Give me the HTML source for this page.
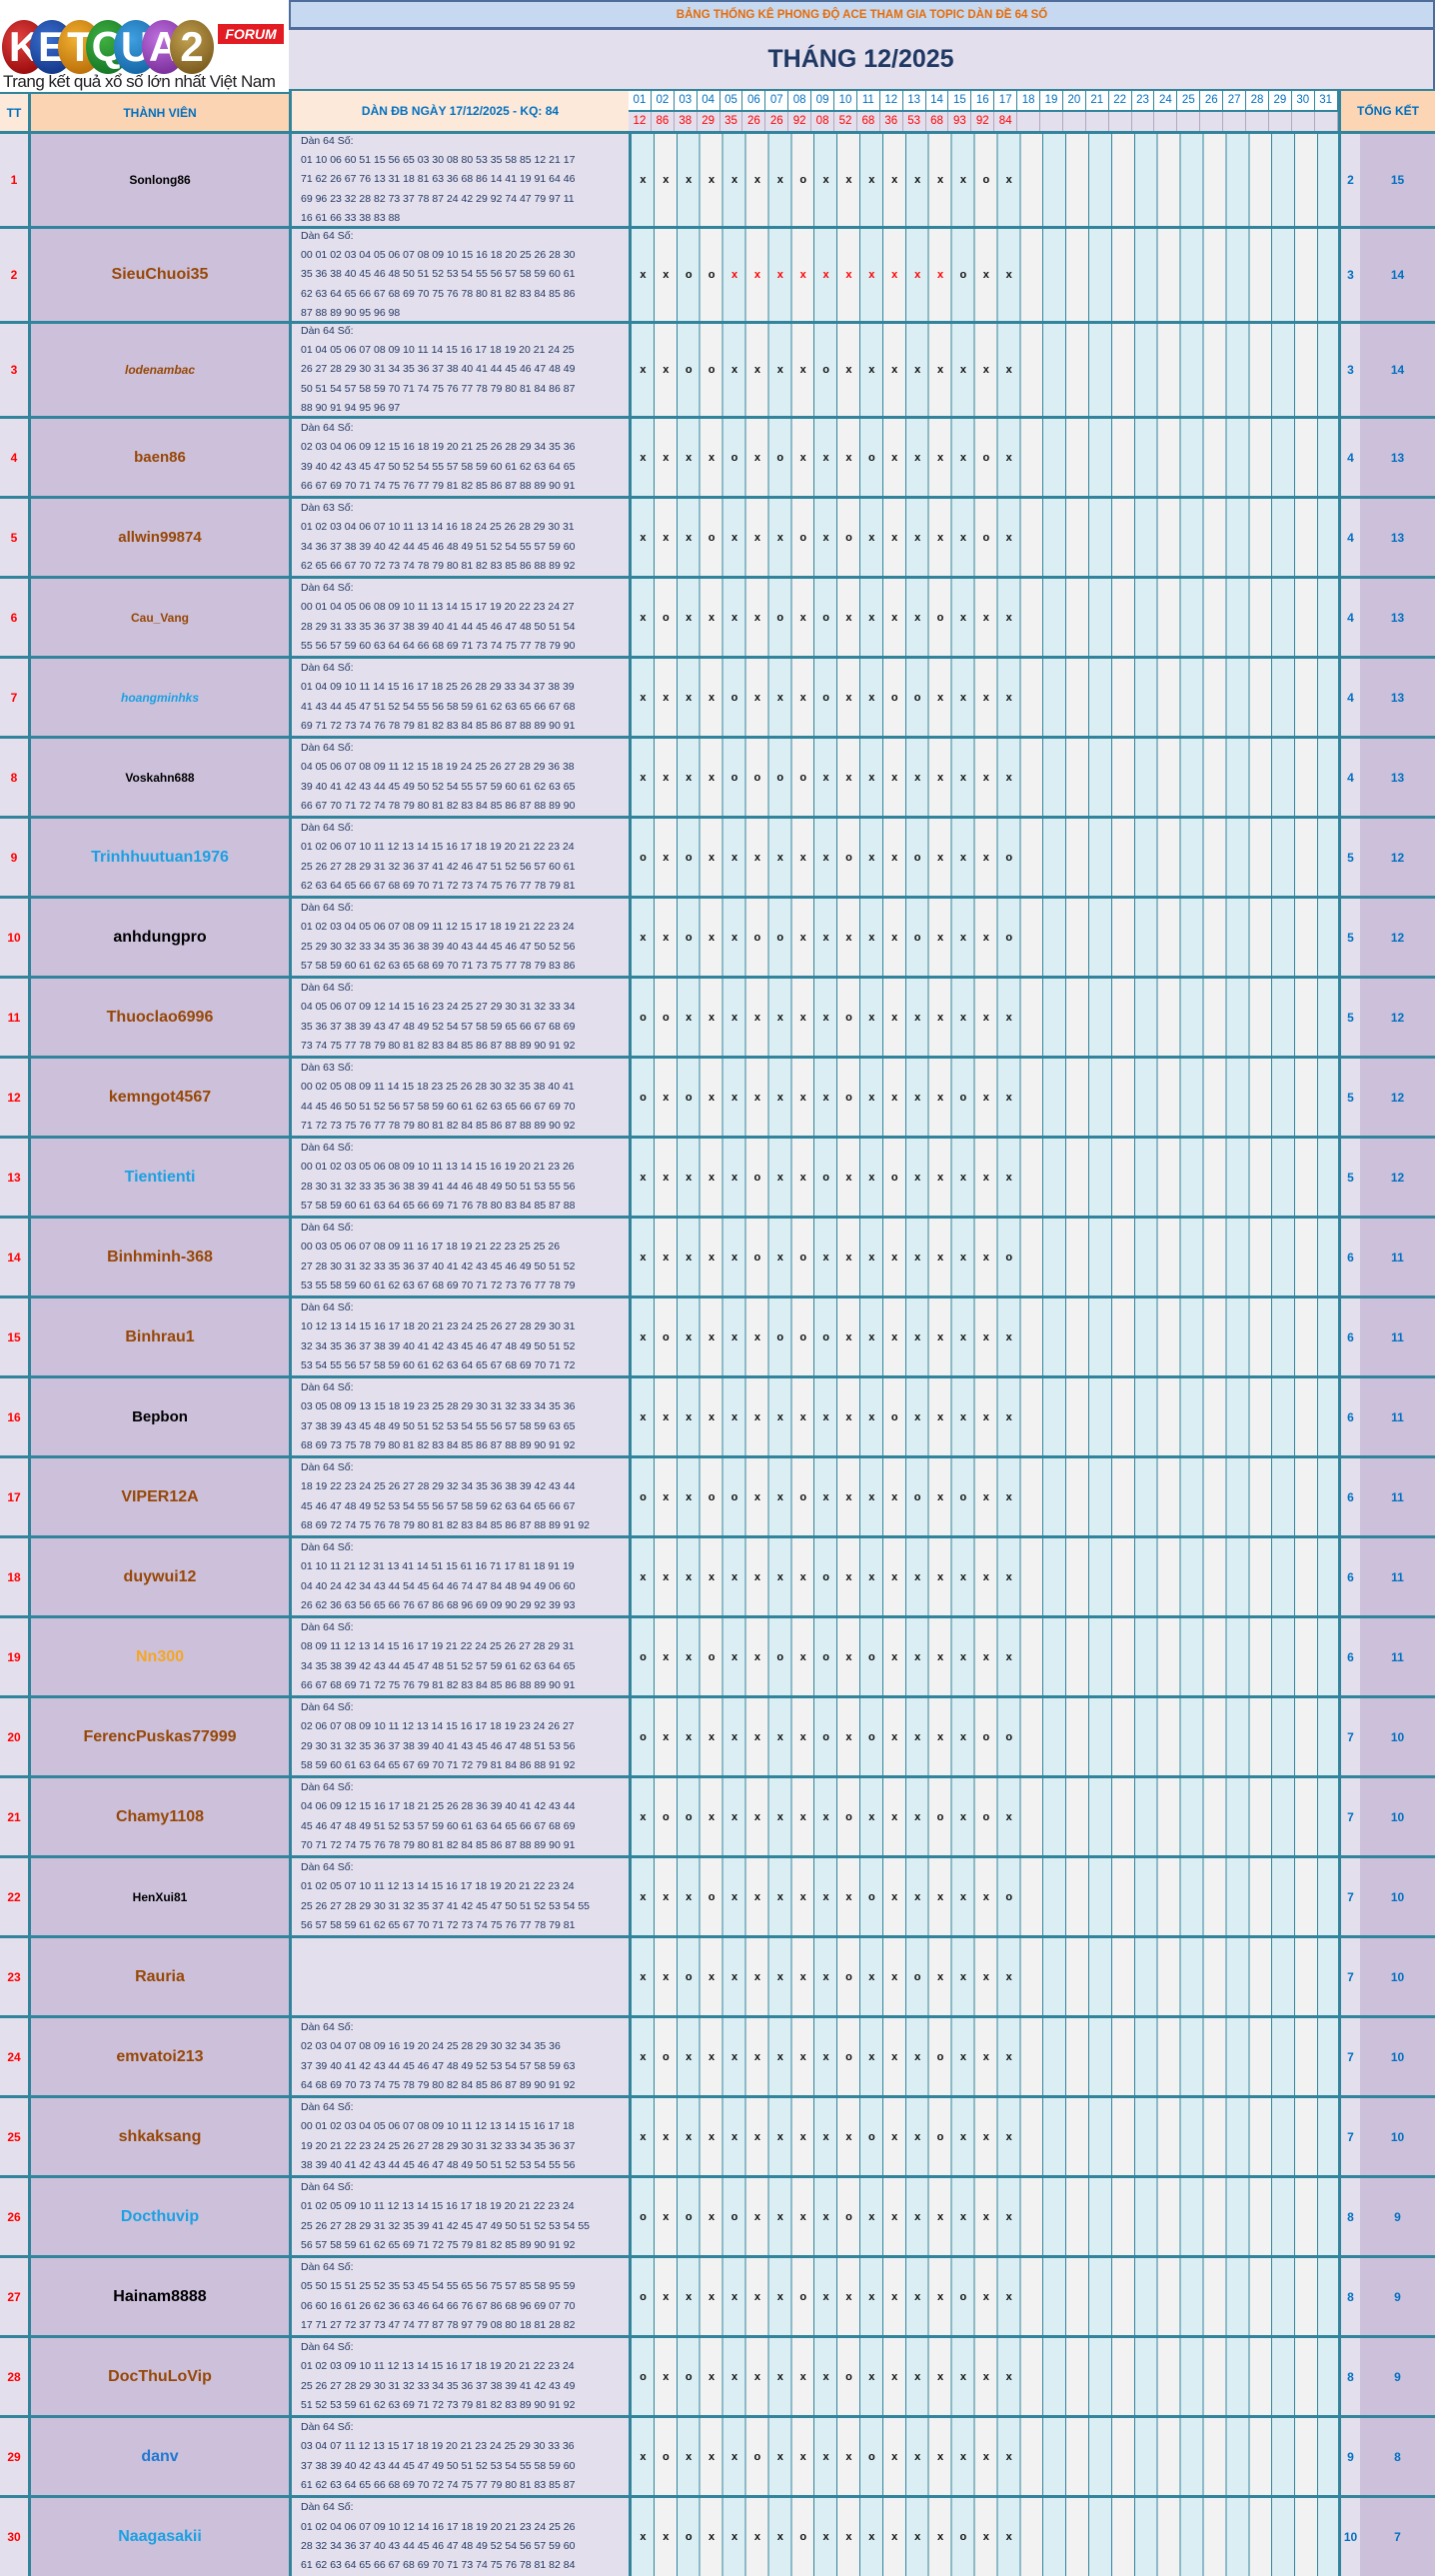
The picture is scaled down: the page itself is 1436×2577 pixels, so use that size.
<!DOCTYPE html>
<html><head><meta charset="utf-8">
<style>
*{box-sizing:border-box;margin:0;padding:0}
body{width:1436px;height:2577px;position:relative;background:#fff;font-family:"Liberation Sans",sans-serif;overflow:hidden}
.a{position:absolute}
.r{position:absolute;left:0;width:1436px;border-top:3px solid #31849b}
.r>div{position:absolute;top:0;bottom:0}
.tt{left:0;width:28px;background:#e4dfec;color:#f00;font-weight:bold;font-size:12px;display:flex;align-items:center;justify-content:center}
.nm{left:28px;width:261px;background:#ccc0da;border-left:3px solid #31849b;display:flex;align-items:center;justify-content:center;font-weight:bold;font-size:15px;color:#974706}
.dn{left:289px;width:340px;background:#e4dfec;border-left:3px solid #31849b;padding-left:9px;font-size:10.5px;line-height:19.3px;color:#1f3864;white-space:nowrap;overflow:hidden;display:flex;flex-direction:column;justify-content:center}
.dy{left:629px;width:710px;border-left:3px solid #31849b;background:repeating-linear-gradient(90deg,#daeef3 0,#daeef3 21.9px,#31849b 21.9px,#31849b 22.9px,#f2f2f2 22.9px,#f2f2f2 44.8px,#31849b 44.8px,#31849b 45.8px);display:flex;align-items:center;font-weight:bold;font-size:11px;color:#111}
.dy span{width:22.9px;text-align:center;flex:none}
.dy span.rd{color:#f00}
.t1{left:1339px;width:22px;background:#e4dfec;border-left:3px solid #31849b;color:#0070c0;font-weight:bold;font-size:12px;display:flex;align-items:center;justify-content:center}
.t2{left:1361px;width:75px;background:#ccc0da;color:#0070c0;font-weight:bold;font-size:12px;display:flex;align-items:center;justify-content:center}
.bk{color:#000}.lb{color:#1ba1e2}.or{color:#f5a623}
.sm{font-size:12px}.it{font-style:italic}
.hd{position:absolute;display:flex;align-items:center;justify-content:center;font-weight:bold;color:#0070c0;font-size:12px}
.dh{position:absolute;top:89px;left:629px;width:710px;height:21px;display:flex;background:#fff;border-top:2px solid #31849b}
.dh span{width:22.9px;flex:none;text-align:center;font-size:11.5px;color:#0070c0;line-height:19px;border-right:1px solid #31849b}
.dr{position:absolute;top:110px;left:629px;width:710px;height:21px;display:flex;background:#e4dfec;border-top:2px solid #31849b}
.dr span{width:22.9px;flex:none;text-align:center;font-size:11.5px;color:#f00;line-height:19px;border-right:1px solid #b0a8c0}
.c{width:44px;height:54px;border-radius:50%;position:absolute;top:20px;color:#fff;font-weight:bold;font-size:42px;line-height:54px;text-align:center;font-family:"Liberation Sans",sans-serif}
</style></head><body>

<!-- logo -->
<div class="a" style="left:0;top:0;width:289px;height:92px;background:#fff"></div>
<div class="c" style="left:2px;background:radial-gradient(circle at 40% 35%,#e04040,#8b0000)">K</div>
<div class="c" style="left:30px;background:radial-gradient(circle at 40% 35%,#3a6fd0,#0a2a78)">E</div>
<div class="c" style="left:58px;background:radial-gradient(circle at 40% 35%,#f0b030,#b06000)">T</div>
<div class="c" style="left:86px;background:radial-gradient(circle at 40% 35%,#40b040,#0a6a20)">Q</div>
<div class="c" style="left:114px;background:radial-gradient(circle at 40% 35%,#40a0e0,#0a5a9a)">U</div>
<div class="c" style="left:142px;background:radial-gradient(circle at 40% 35%,#c070e0,#6a208a)">A</div>
<div class="c" style="left:170px;background:radial-gradient(circle at 40% 35%,#c0a050,#6a4a10)">2</div>
<div class="a" style="left:218px;top:24px;width:66px;height:20px;background:#e31b23;color:#fff;font-weight:bold;font-style:italic;font-size:14px;text-align:center;line-height:20px">FORUM</div>
<div class="a" style="left:3px;top:72px;font-size:17px;color:#222;letter-spacing:-0.5px;white-space:nowrap;line-height:19px">Trang kết quả xổ số lớn nhất Việt Nam</div>

<!-- title -->
<div class="a" style="left:289px;top:0;width:1147px;height:30px;background:#c6d9f1;border:2px solid #4f6d9b;border-bottom-width:3px;color:#e46c0a;font-weight:bold;font-size:11.5px;display:flex;align-items:center;justify-content:center">BẢNG THỐNG KÊ PHONG ĐỘ ACE THAM GIA TOPIC DÀN ĐỀ 64 SỐ</div>
<div class="a" style="left:289px;top:30px;width:1147px;height:59px;background:#e4dfec;border-right:2px solid #4f6d9b;color:#1f3864;font-weight:bold;font-size:25px;display:flex;align-items:center;justify-content:center">THÁNG 12/2025</div>

<!-- header row -->
<div class="hd" style="left:0;top:92px;width:28px;height:39px;background:#fde9d9;border-top:2px solid #31849b">TT</div>
<div class="hd" style="left:28px;top:92px;width:261px;height:39px;background:#fbd4b4;border-left:3px solid #31849b;border-top:2px solid #31849b">THÀNH VIÊN</div>
<div class="hd" style="left:289px;top:89px;width:340px;height:42px;background:#fde9d9;border-left:3px solid #31849b;border-top:2px solid #31849b">DÀN ĐB NGÀY 17/12/2025 - KQ: 84</div>
<div class="dh"><span>01</span><span>02</span><span>03</span><span>04</span><span>05</span><span>06</span><span>07</span><span>08</span><span>09</span><span>10</span><span>11</span><span>12</span><span>13</span><span>14</span><span>15</span><span>16</span><span>17</span><span>18</span><span>19</span><span>20</span><span>21</span><span>22</span><span>23</span><span>24</span><span>25</span><span>26</span><span>27</span><span>28</span><span>29</span><span>30</span><span>31</span></div>
<div class="dr"><span>12</span><span>86</span><span>38</span><span>29</span><span>35</span><span>26</span><span>26</span><span>92</span><span>08</span><span>52</span><span>68</span><span>36</span><span>53</span><span>68</span><span>93</span><span>92</span><span>84</span><span></span><span></span><span></span><span></span><span></span><span></span><span></span><span></span><span></span><span></span><span></span><span></span><span></span><span></span></div>
<div class="hd" style="left:1339px;top:89px;width:97px;height:42px;background:#fcd5b4;border-left:3px solid #31849b;border-top:2px solid #31849b">TỔNG KẾT</div>

<!-- rows -->
<div class="r" style="top:131px;height:95px"><div class="tt">1</div><div class="nm bk sm">Sonlong86</div><div class="dn"><div>Dàn 64 Số:</div><div>01 10 06 60 51 15 56 65 03 30 08 80 53 35 58 85 12 21 17</div><div>71 62 26 67 76 13 31 18 81 63 36 68 86 14 41 19 91 64 46</div><div>69 96 23 32 28 82 73 37 78 87 24 42 29 92 74 47 79 97 11</div><div>16 61 66 33 38 83 88</div></div><div class="dy"><span>x</span><span>x</span><span>x</span><span>x</span><span>x</span><span>x</span><span>x</span><span>o</span><span>x</span><span>x</span><span>x</span><span>x</span><span>x</span><span>x</span><span>x</span><span>o</span><span>x</span></div><div class="t1">2</div><div class="t2">15</div></div>

<div class="r" style="top:226px;height:95px"><div class="tt">2</div><div class="nm" style="font-size:16px">SieuChuoi35</div><div class="dn"><div>Dàn 64 Số:</div><div>00 01 02 03 04 05 06 07 08 09 10 15 16 18 20 25 26 28 30</div><div>35 36 38 40 45 46 48 50 51 52 53 54 55 56 57 58 59 60 61</div><div>62 63 64 65 66 67 68 69 70 75 76 78 80 81 82 83 84 85 86</div><div>87 88 89 90 95 96 98</div></div><div class="dy"><span>x</span><span>x</span><span>o</span><span>o</span><span class="rd">x</span><span class="rd">x</span><span class="rd">x</span><span class="rd">x</span><span class="rd">x</span><span class="rd">x</span><span class="rd">x</span><span class="rd">x</span><span class="rd">x</span><span class="rd">x</span><span>o</span><span>x</span><span>x</span></div><div class="t1">3</div><div class="t2">14</div></div>

<div class="r" style="top:321px;height:95px"><div class="tt">3</div><div class="nm it sm">lodenambac</div><div class="dn"><div>Dàn 64 Số:</div><div>01 04 05 06 07 08 09 10 11 14 15 16 17 18 19 20 21 24 25</div><div>26 27 28 29 30 31 34 35 36 37 38 40 41 44 45 46 47 48 49</div><div>50 51 54 57 58 59 70 71 74 75 76 77 78 79 80 81 84 86 87</div><div>88 90 91 94 95 96 97</div></div><div class="dy"><span>x</span><span>x</span><span>o</span><span>o</span><span>x</span><span>x</span><span>x</span><span>x</span><span>o</span><span>x</span><span>x</span><span>x</span><span>x</span><span>x</span><span>x</span><span>x</span><span>x</span></div><div class="t1">3</div><div class="t2">14</div></div>

<div class="r" style="top:416px;height:80px"><div class="tt">4</div><div class="nm">baen86</div><div class="dn"><div>Dàn 64 Số:</div><div>02 03 04 06 09 12 15 16 18 19 20 21 25 26 28 29 34 35 36</div><div>39 40 42 43 45 47 50 52 54 55 57 58 59 60 61 62 63 64 65</div><div>66 67 69 70 71 74 75 76 77 79 81 82 85 86 87 88 89 90 91</div></div><div class="dy"><span>x</span><span>x</span><span>x</span><span>x</span><span>o</span><span>x</span><span>o</span><span>x</span><span>x</span><span>x</span><span>o</span><span>x</span><span>x</span><span>x</span><span>x</span><span>o</span><span>x</span></div><div class="t1">4</div><div class="t2">13</div></div>

<div class="r" style="top:496px;height:80px"><div class="tt">5</div><div class="nm">allwin99874</div><div class="dn"><div>Dàn 63 Số:</div><div>01 02 03 04 06 07 10 11 13 14 16 18 24 25 26 28 29 30 31</div><div>34 36 37 38 39 40 42 44 45 46 48 49 51 52 54 55 57 59 60</div><div>62 65 66 67 70 72 73 74 78 79 80 81 82 83 85 86 88 89 92</div></div><div class="dy"><span>x</span><span>x</span><span>x</span><span>o</span><span>x</span><span>x</span><span>x</span><span>o</span><span>x</span><span>o</span><span>x</span><span>x</span><span>x</span><span>x</span><span>x</span><span>o</span><span>x</span></div><div class="t1">4</div><div class="t2">13</div></div>

<div class="r" style="top:576px;height:80px"><div class="tt">6</div><div class="nm sm">Cau_Vang</div><div class="dn"><div>Dàn 64 Số:</div><div>00 01 04 05 06 08 09 10 11 13 14 15 17 19 20 22 23 24 27</div><div>28 29 31 33 35 36 37 38 39 40 41 44 45 46 47 48 50 51 54</div><div>55 56 57 59 60 63 64 64 66 68 69 71 73 74 75 77 78 79 90</div></div><div class="dy"><span>x</span><span>o</span><span>x</span><span>x</span><span>x</span><span>x</span><span>o</span><span>x</span><span>o</span><span>x</span><span>x</span><span>x</span><span>x</span><span>o</span><span>x</span><span>x</span><span>x</span></div><div class="t1">4</div><div class="t2">13</div></div>

<div class="r" style="top:656px;height:80px"><div class="tt">7</div><div class="nm lb it sm">hoangminhks</div><div class="dn"><div>Dàn 64 Số:</div><div>01 04 09 10 11 14 15 16 17 18 25 26 28 29 33 34 37 38 39</div><div>41 43 44 45 47 51 52 54 55 56 58 59 61 62 63 65 66 67 68</div><div>69 71 72 73 74 76 78 79 81 82 83 84 85 86 87 88 89 90 91</div></div><div class="dy"><span>x</span><span>x</span><span>x</span><span>x</span><span>o</span><span>x</span><span>x</span><span>x</span><span>o</span><span>x</span><span>x</span><span>o</span><span>o</span><span>x</span><span>x</span><span>x</span><span>x</span></div><div class="t1">4</div><div class="t2">13</div></div>

<div class="r" style="top:736px;height:80px"><div class="tt">8</div><div class="nm bk sm">Voskahn688</div><div class="dn"><div>Dàn 64 Số:</div><div>04 05 06 07 08 09 11 12 15 18 19 24 25 26 27 28 29 36 38</div><div>39 40 41 42 43 44 45 49 50 52 54 55 57 59 60 61 62 63 65</div><div>66 67 70 71 72 74 78 79 80 81 82 83 84 85 86 87 88 89 90</div></div><div class="dy"><span>x</span><span>x</span><span>x</span><span>x</span><span>o</span><span>o</span><span>o</span><span>o</span><span>x</span><span>x</span><span>x</span><span>x</span><span>x</span><span>x</span><span>x</span><span>x</span><span>x</span></div><div class="t1">4</div><div class="t2">13</div></div>

<div class="r" style="top:816px;height:80px"><div class="tt">9</div><div class="nm lb" style="font-size:16px">Trinhhuutuan1976</div><div class="dn"><div>Dàn 64 Số:</div><div>01 02 06 07 10 11 12 13 14 15 16 17 18 19 20 21 22 23 24</div><div>25 26 27 28 29 31 32 36 37 41 42 46 47 51 52 56 57 60 61</div><div>62 63 64 65 66 67 68 69 70 71 72 73 74 75 76 77 78 79 81</div></div><div class="dy"><span>o</span><span>x</span><span>o</span><span>x</span><span>x</span><span>x</span><span>x</span><span>x</span><span>x</span><span>o</span><span>x</span><span>x</span><span>o</span><span>x</span><span>x</span><span>x</span><span>o</span></div><div class="t1">5</div><div class="t2">12</div></div>

<div class="r" style="top:896px;height:80px"><div class="tt">10</div><div class="nm bk" style="font-size:16px">anhdungpro</div><div class="dn"><div>Dàn 64 Số:</div><div>01 02 03 04 05 06 07 08 09 11 12 15 17 18 19 21 22 23 24</div><div>25 29 30 32 33 34 35 36 38 39 40 43 44 45 46 47 50 52 56</div><div>57 58 59 60 61 62 63 65 68 69 70 71 73 75 77 78 79 83 86</div></div><div class="dy"><span>x</span><span>x</span><span>o</span><span>x</span><span>x</span><span>o</span><span>o</span><span>x</span><span>x</span><span>x</span><span>x</span><span>x</span><span>o</span><span>x</span><span>x</span><span>x</span><span>o</span></div><div class="t1">5</div><div class="t2">12</div></div>

<div class="r" style="top:976px;height:80px"><div class="tt">11</div><div class="nm" style="font-size:16px">Thuoclao6996</div><div class="dn"><div>Dàn 64 Số:</div><div>04 05 06 07 09 12 14 15 16 23 24 25 27 29 30 31 32 33 34</div><div>35 36 37 38 39 43 47 48 49 52 54 57 58 59 65 66 67 68 69</div><div>73 74 75 77 78 79 80 81 82 83 84 85 86 87 88 89 90 91 92</div></div><div class="dy"><span>o</span><span>o</span><span>x</span><span>x</span><span>x</span><span>x</span><span>x</span><span>x</span><span>x</span><span>o</span><span>x</span><span>x</span><span>x</span><span>x</span><span>x</span><span>x</span><span>x</span></div><div class="t1">5</div><div class="t2">12</div></div>

<div class="r" style="top:1056px;height:80px"><div class="tt">12</div><div class="nm" style="font-size:16px">kemngot4567</div><div class="dn"><div>Dàn 63 Số:</div><div>00 02 05 08 09 11 14 15 18 23 25 26 28 30 32 35 38 40 41</div><div>44 45 46 50 51 52 56 57 58 59 60 61 62 63 65 66 67 69 70</div><div>71 72 73 75 76 77 78 79 80 81 82 84 85 86 87 88 89 90 92</div></div><div class="dy"><span>o</span><span>x</span><span>o</span><span>x</span><span>x</span><span>x</span><span>x</span><span>x</span><span>x</span><span>o</span><span>x</span><span>x</span><span>x</span><span>x</span><span>o</span><span>x</span><span>x</span></div><div class="t1">5</div><div class="t2">12</div></div>

<div class="r" style="top:1136px;height:80px"><div class="tt">13</div><div class="nm lb" style="font-size:16px">Tientienti</div><div class="dn"><div>Dàn 64 Số:</div><div>00 01 02 03 05 06 08 09 10 11 13 14 15 16 19 20 21 23 26</div><div>28 30 31 32 33 35 36 38 39 41 44 46 48 49 50 51 53 55 56</div><div>57 58 59 60 61 63 64 65 66 69 71 76 78 80 83 84 85 87 88</div></div><div class="dy"><span>x</span><span>x</span><span>x</span><span>x</span><span>x</span><span>o</span><span>x</span><span>x</span><span>o</span><span>x</span><span>x</span><span>o</span><span>x</span><span>x</span><span>x</span><span>x</span><span>x</span></div><div class="t1">5</div><div class="t2">12</div></div>

<div class="r" style="top:1216px;height:80px"><div class="tt">14</div><div class="nm" style="font-size:16px">Binhminh-368</div><div class="dn"><div>Dàn 64 Số:</div><div>00 03 05 06 07 08 09 11 16 17 18 19 21 22 23 25 25 26</div><div>27 28 30 31 32 33 35 36 37 40 41 42 43 45 46 49 50 51 52</div><div>53 55 58 59 60 61 62 63 67 68 69 70 71 72 73 76 77 78 79</div></div><div class="dy"><span>x</span><span>x</span><span>x</span><span>x</span><span>x</span><span>o</span><span>x</span><span>o</span><span>x</span><span>x</span><span>x</span><span>x</span><span>x</span><span>x</span><span>x</span><span>x</span><span>o</span></div><div class="t1">6</div><div class="t2">11</div></div>

<div class="r" style="top:1296px;height:80px"><div class="tt">15</div><div class="nm" style="font-size:16px">Binhrau1</div><div class="dn"><div>Dàn 64 Số:</div><div>10 12 13 14 15 16 17 18 20 21 23 24 25 26 27 28 29 30 31</div><div>32 34 35 36 37 38 39 40 41 42 43 45 46 47 48 49 50 51 52</div><div>53 54 55 56 57 58 59 60 61 62 63 64 65 67 68 69 70 71 72</div></div><div class="dy"><span>x</span><span>o</span><span>x</span><span>x</span><span>x</span><span>x</span><span>o</span><span>o</span><span>o</span><span>x</span><span>x</span><span>x</span><span>x</span><span>x</span><span>x</span><span>x</span><span>x</span></div><div class="t1">6</div><div class="t2">11</div></div>

<div class="r" style="top:1376px;height:80px"><div class="tt">16</div><div class="nm bk" style="font-size:15px">Bepbon</div><div class="dn"><div>Dàn 64 Số:</div><div>03 05 08 09 13 15 18 19 23 25 28 29 30 31 32 33 34 35 36</div><div>37 38 39 43 45 48 49 50 51 52 53 54 55 56 57 58 59 63 65</div><div>68 69 73 75 78 79 80 81 82 83 84 85 86 87 88 89 90 91 92</div></div><div class="dy"><span>x</span><span>x</span><span>x</span><span>x</span><span>x</span><span>x</span><span>x</span><span>x</span><span>x</span><span>x</span><span>x</span><span>o</span><span>x</span><span>x</span><span>x</span><span>x</span><span>x</span></div><div class="t1">6</div><div class="t2">11</div></div>

<div class="r" style="top:1456px;height:80px"><div class="tt">17</div><div class="nm" style="font-size:16px">VIPER12A</div><div class="dn"><div>Dàn 64 Số:</div><div>18 19 22 23 24 25 26 27 28 29 32 34 35 36 38 39 42 43 44</div><div>45 46 47 48 49 52 53 54 55 56 57 58 59 62 63 64 65 66 67</div><div>68 69 72 74 75 76 78 79 80 81 82 83 84 85 86 87 88 89 91 92</div></div><div class="dy"><span>o</span><span>x</span><span>x</span><span>o</span><span>o</span><span>x</span><span>x</span><span>o</span><span>x</span><span>x</span><span>x</span><span>x</span><span>o</span><span>x</span><span>o</span><span>x</span><span>x</span></div><div class="t1">6</div><div class="t2">11</div></div>

<div class="r" style="top:1536px;height:80px"><div class="tt">18</div><div class="nm" style="font-size:16px">duywui12</div><div class="dn"><div>Dàn 64 Số:</div><div>01 10 11 21 12 31 13 41 14 51 15 61 16 71 17 81 18 91 19</div><div>04 40 24 42 34 43 44 54 45 64 46 74 47 84 48 94 49 06 60</div><div>26 62 36 63 56 65 66 76 67 86 68 96 69 09 90 29 92 39 93</div></div><div class="dy"><span>x</span><span>x</span><span>x</span><span>x</span><span>x</span><span>x</span><span>x</span><span>x</span><span>o</span><span>x</span><span>x</span><span>x</span><span>x</span><span>x</span><span>x</span><span>x</span><span>x</span></div><div class="t1">6</div><div class="t2">11</div></div>

<div class="r" style="top:1616px;height:80px"><div class="tt">19</div><div class="nm or" style="font-size:16px">Nn300</div><div class="dn"><div>Dàn 64 Số:</div><div>08 09 11 12 13 14 15 16 17 19 21 22 24 25 26 27 28 29 31</div><div>34 35 38 39 42 43 44 45 47 48 51 52 57 59 61 62 63 64 65</div><div>66 67 68 69 71 72 75 76 79 81 82 83 84 85 86 88 89 90 91</div></div><div class="dy"><span>o</span><span>x</span><span>x</span><span>o</span><span>x</span><span>x</span><span>o</span><span>x</span><span>o</span><span>x</span><span>o</span><span>x</span><span>x</span><span>x</span><span>x</span><span>x</span><span>x</span></div><div class="t1">6</div><div class="t2">11</div></div>

<div class="r" style="top:1696px;height:80px"><div class="tt">20</div><div class="nm" style="font-size:16px">FerencPuskas77999</div><div class="dn"><div>Dàn 64 Số:</div><div>02 06 07 08 09 10 11 12 13 14 15 16 17 18 19 23 24 26 27</div><div>29 30 31 32 35 36 37 38 39 40 41 43 45 46 47 48 51 53 56</div><div>58 59 60 61 63 64 65 67 69 70 71 72 79 81 84 86 88 91 92</div></div><div class="dy"><span>o</span><span>x</span><span>x</span><span>x</span><span>x</span><span>x</span><span>x</span><span>x</span><span>o</span><span>x</span><span>o</span><span>x</span><span>x</span><span>x</span><span>x</span><span>o</span><span>o</span></div><div class="t1">7</div><div class="t2">10</div></div>

<div class="r" style="top:1776px;height:80px"><div class="tt">21</div><div class="nm" style="font-size:16px">Chamy1108</div><div class="dn"><div>Dàn 64 Số:</div><div>04 06 09 12 15 16 17 18 21 25 26 28 36 39 40 41 42 43 44</div><div>45 46 47 48 49 51 52 53 57 59 60 61 63 64 65 66 67 68 69</div><div>70 71 72 74 75 76 78 79 80 81 82 84 85 86 87 88 89 90 91</div></div><div class="dy"><span>x</span><span>o</span><span>o</span><span>x</span><span>x</span><span>x</span><span>x</span><span>x</span><span>x</span><span>o</span><span>x</span><span>x</span><span>x</span><span>o</span><span>x</span><span>o</span><span>x</span></div><div class="t1">7</div><div class="t2">10</div></div>

<div class="r" style="top:1856px;height:80px"><div class="tt">22</div><div class="nm bk sm">HenXui81</div><div class="dn"><div>Dàn 64 Số:</div><div>01 02 05 07 10 11 12 13 14 15 16 17 18 19 20 21 22 23 24</div><div>25 26 27 28 29 30 31 32 35 37 41 42 45 47 50 51 52 53 54 55</div><div>56 57 58 59 61 62 65 67 70 71 72 73 74 75 76 77 78 79 81</div></div><div class="dy"><span>x</span><span>x</span><span>x</span><span>o</span><span>x</span><span>x</span><span>x</span><span>x</span><span>x</span><span>x</span><span>o</span><span>x</span><span>x</span><span>x</span><span>x</span><span>x</span><span>o</span></div><div class="t1">7</div><div class="t2">10</div></div>

<div class="r" style="top:1936px;height:80px"><div class="tt">23</div><div class="nm" style="font-size:16px">Rauria</div><div class="dn"></div><div class="dy"><span>x</span><span>x</span><span>o</span><span>x</span><span>x</span><span>x</span><span>x</span><span>x</span><span>x</span><span>o</span><span>x</span><span>x</span><span>o</span><span>x</span><span>x</span><span>x</span><span>x</span></div><div class="t1">7</div><div class="t2">10</div></div>

<div class="r" style="top:2016px;height:80px"><div class="tt">24</div><div class="nm" style="font-size:16px">emvatoi213</div><div class="dn"><div>Dàn 64 Số:</div><div>02 03 04 07 08 09 16 19 20 24 25 28 29 30 32 34 35 36</div><div>37 39 40 41 42 43 44 45 46 47 48 49 52 53 54 57 58 59 63</div><div>64 68 69 70 73 74 75 78 79 80 82 84 85 86 87 89 90 91 92</div></div><div class="dy"><span>x</span><span>o</span><span>x</span><span>x</span><span>x</span><span>x</span><span>x</span><span>x</span><span>x</span><span>o</span><span>x</span><span>x</span><span>x</span><span>o</span><span>x</span><span>x</span><span>x</span></div><div class="t1">7</div><div class="t2">10</div></div>

<div class="r" style="top:2096px;height:80px"><div class="tt">25</div><div class="nm" style="font-size:16px">shkaksang</div><div class="dn"><div>Dàn 64 Số:</div><div>00 01 02 03 04 05 06 07 08 09 10 11 12 13 14 15 16 17 18</div><div>19 20 21 22 23 24 25 26 27 28 29 30 31 32 33 34 35 36 37</div><div>38 39 40 41 42 43 44 45 46 47 48 49 50 51 52 53 54 55 56</div></div><div class="dy"><span>x</span><span>x</span><span>x</span><span>x</span><span>x</span><span>x</span><span>x</span><span>x</span><span>x</span><span>x</span><span>o</span><span>x</span><span>x</span><span>o</span><span>x</span><span>x</span><span>x</span></div><div class="t1">7</div><div class="t2">10</div></div>

<div class="r" style="top:2176px;height:80px"><div class="tt">26</div><div class="nm lb" style="font-size:16px">Docthuvip</div><div class="dn"><div>Dàn 64 Số:</div><div>01 02 05 09 10 11 12 13 14 15 16 17 18 19 20 21 22 23 24</div><div>25 26 27 28 29 31 32 35 39 41 42 45 47 49 50 51 52 53 54 55</div><div>56 57 58 59 61 62 65 69 71 72 75 79 81 82 85 89 90 91 92</div></div><div class="dy"><span>o</span><span>x</span><span>o</span><span>x</span><span>o</span><span>x</span><span>x</span><span>x</span><span>x</span><span>o</span><span>x</span><span>x</span><span>x</span><span>x</span><span>x</span><span>x</span><span>x</span></div><div class="t1">8</div><div class="t2">9</div></div>

<div class="r" style="top:2256px;height:80px"><div class="tt">27</div><div class="nm bk" style="font-size:16px">Hainam8888</div><div class="dn"><div>Dàn 64 Số:</div><div>05 50 15 51 25 52 35 53 45 54 55 65 56 75 57 85 58 95 59</div><div>06 60 16 61 26 62 36 63 46 64 66 76 67 86 68 96 69 07 70</div><div>17 71 27 72 37 73 47 74 77 87 78 97 79 08 80 18 81 28 82</div></div><div class="dy"><span>o</span><span>x</span><span>x</span><span>x</span><span>x</span><span>x</span><span>x</span><span>o</span><span>x</span><span>x</span><span>x</span><span>x</span><span>x</span><span>x</span><span>o</span><span>x</span><span>x</span></div><div class="t1">8</div><div class="t2">9</div></div>

<div class="r" style="top:2336px;height:80px"><div class="tt">28</div><div class="nm" style="font-size:16px">DocThuLoVip</div><div class="dn"><div>Dàn 64 Số:</div><div>01 02 03 09 10 11 12 13 14 15 16 17 18 19 20 21 22 23 24</div><div>25 26 27 28 29 30 31 32 33 34 35 36 37 38 39 41 42 43 49</div><div>51 52 53 59 61 62 63 69 71 72 73 79 81 82 83 89 90 91 92</div></div><div class="dy"><span>o</span><span>x</span><span>o</span><span>x</span><span>x</span><span>x</span><span>x</span><span>x</span><span>x</span><span>o</span><span>x</span><span>x</span><span>x</span><span>x</span><span>x</span><span>x</span><span>x</span></div><div class="t1">8</div><div class="t2">9</div></div>

<div class="r" style="top:2416px;height:80px"><div class="tt">29</div><div class="nm" style="font-size:16px;color:#1f78d1">danv</div><div class="dn"><div>Dàn 64 Số:</div><div>03 04 07 11 12 13 15 17 18 19 20 21 23 24 25 29 30 33 36</div><div>37 38 39 40 42 43 44 45 47 49 50 51 52 53 54 55 58 59 60</div><div>61 62 63 64 65 66 68 69 70 72 74 75 77 79 80 81 83 85 87</div></div><div class="dy"><span>x</span><span>o</span><span>x</span><span>x</span><span>x</span><span>o</span><span>x</span><span>x</span><span>x</span><span>x</span><span>o</span><span>x</span><span>x</span><span>x</span><span>x</span><span>x</span><span>x</span></div><div class="t1">9</div><div class="t2">8</div></div>

<div class="r" style="top:2496px;height:81px"><div class="tt">30</div><div class="nm lb" style="font-size:16px">Naagasakii</div><div class="dn"><div>Dàn 64 Số:</div><div>01 02 04 06 07 09 10 12 14 16 17 18 19 20 21 23 24 25 26</div><div>28 32 34 36 37 40 43 44 45 46 47 48 49 52 54 56 57 59 60</div><div>61 62 63 64 65 66 67 68 69 70 71 73 74 75 76 78 81 82 84</div></div><div class="dy"><span>x</span><span>x</span><span>o</span><span>x</span><span>x</span><span>x</span><span>x</span><span>o</span><span>x</span><span>x</span><span>x</span><span>x</span><span>x</span><span>x</span><span>o</span><span>x</span><span>x</span></div><div class="t1">10</div><div class="t2">7</div></div>

</body></html>
